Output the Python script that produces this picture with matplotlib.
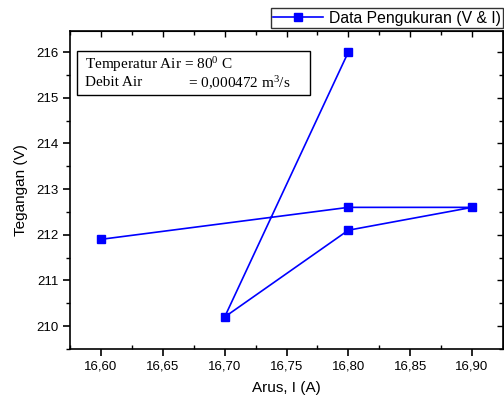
import matplotlib.pyplot as plt
from matplotlib.patches import Rectangle
from matplotlib.ticker import MultipleLocator, FuncFormatter

# measured data (order as plotted)
arus = [16.60, 16.80, 16.90, 16.80, 16.70, 16.80]
tegangan = [211.9, 212.6, 212.6, 212.1, 210.2, 216.0]

plt.rcParams['font.family'] = ['Liberation Sans', 'DejaVu Sans']

W, H = 504, 400
fig = plt.figure(figsize=(W / 100, H / 100), dpi=100)
ax = fig.add_axes([70 / W, 51 / H, 433 / W, 318 / H])

ax.plot(arus, tegangan, '-s', color='#0000ff', lw=1.2, markersize=5.5,
        label='Data Pengukuran (V & I)')

ax.set_xlim(16.575, 16.925)
ax.set_ylim(209.5, 216.46)
ax.xaxis.set_major_locator(MultipleLocator(0.05))
ax.xaxis.set_minor_locator(MultipleLocator(0.025))
ax.yaxis.set_major_locator(MultipleLocator(1))
ax.yaxis.set_minor_locator(MultipleLocator(0.5))
ax.xaxis.set_major_formatter(FuncFormatter(lambda v, p: "{:.2f}".format(v).replace('.', ',')))
ax.yaxis.set_major_formatter(FuncFormatter(lambda v, p: "{:.0f}".format(v)))

ax.tick_params(which='major', direction='out', length=5, width=1.2, labelsize=9.5)
ax.tick_params(axis='x', which='minor', direction='in', length=3, width=1)
ax.tick_params(axis='y', which='minor', direction='out', length=3, width=1)
ax.tick_params(which='both', top=False, right=False)
for s in ax.spines.values():
    s.set_linewidth(1.2)

# mirrored inward ticks on top / right
top = ax.secondary_xaxis('top')
top.xaxis.set_major_locator(MultipleLocator(0.05))
top.xaxis.set_minor_locator(MultipleLocator(0.025))
top.tick_params(which='both', direction='in', labeltop=False, width=1)
top.tick_params(which='major', length=4)
top.tick_params(which='minor', length=3)
right = ax.secondary_yaxis('right')
right.yaxis.set_major_locator(MultipleLocator(1))
right.yaxis.set_minor_locator(MultipleLocator(0.5))
right.tick_params(which='both', direction='in', labelright=False, width=1)
right.tick_params(which='major', length=4)
right.tick_params(which='minor', length=3)

ax.set_xlabel('Arus, I (A)', fontsize=11, labelpad=6)
ax.set_ylabel('Tegangan (V)', fontsize=11, labelpad=6)

leg = ax.legend(loc='lower right', bbox_to_anchor=(1.0, 1.0 + 3 / 318), frameon=True,
                fancybox=False, edgecolor='black', fontsize=11.3, borderpad=0.15,
                handlelength=3.2, borderaxespad=0.0, handletextpad=0.35)
leg.get_frame().set_linewidth(1.0)

# info box
box = Rectangle((77 / W, 1 - 95 / H), (310 - 77) / W, (95 - 51) / H,
                transform=fig.transFigure, fc='white', ec='black', lw=1.0, zorder=5)
fig.add_artist(box)
serif = dict(family='Liberation Serif', fontsize=11, va='center', ha='left', zorder=6)
fig.text(85 / W, 1 - 65 / H, 'Temperatur Air = 80$\\mathregular{^0}$ C', **serif)
fig.text(85 / W, 1 - 83 / H, 'Debit Air', **serif)
fig.text(188 / W, 1 - 83 / H, '= 0,000472 m$\\mathregular{^3}$/s', **serif)

fig.savefig('out.png', dpi=100)
